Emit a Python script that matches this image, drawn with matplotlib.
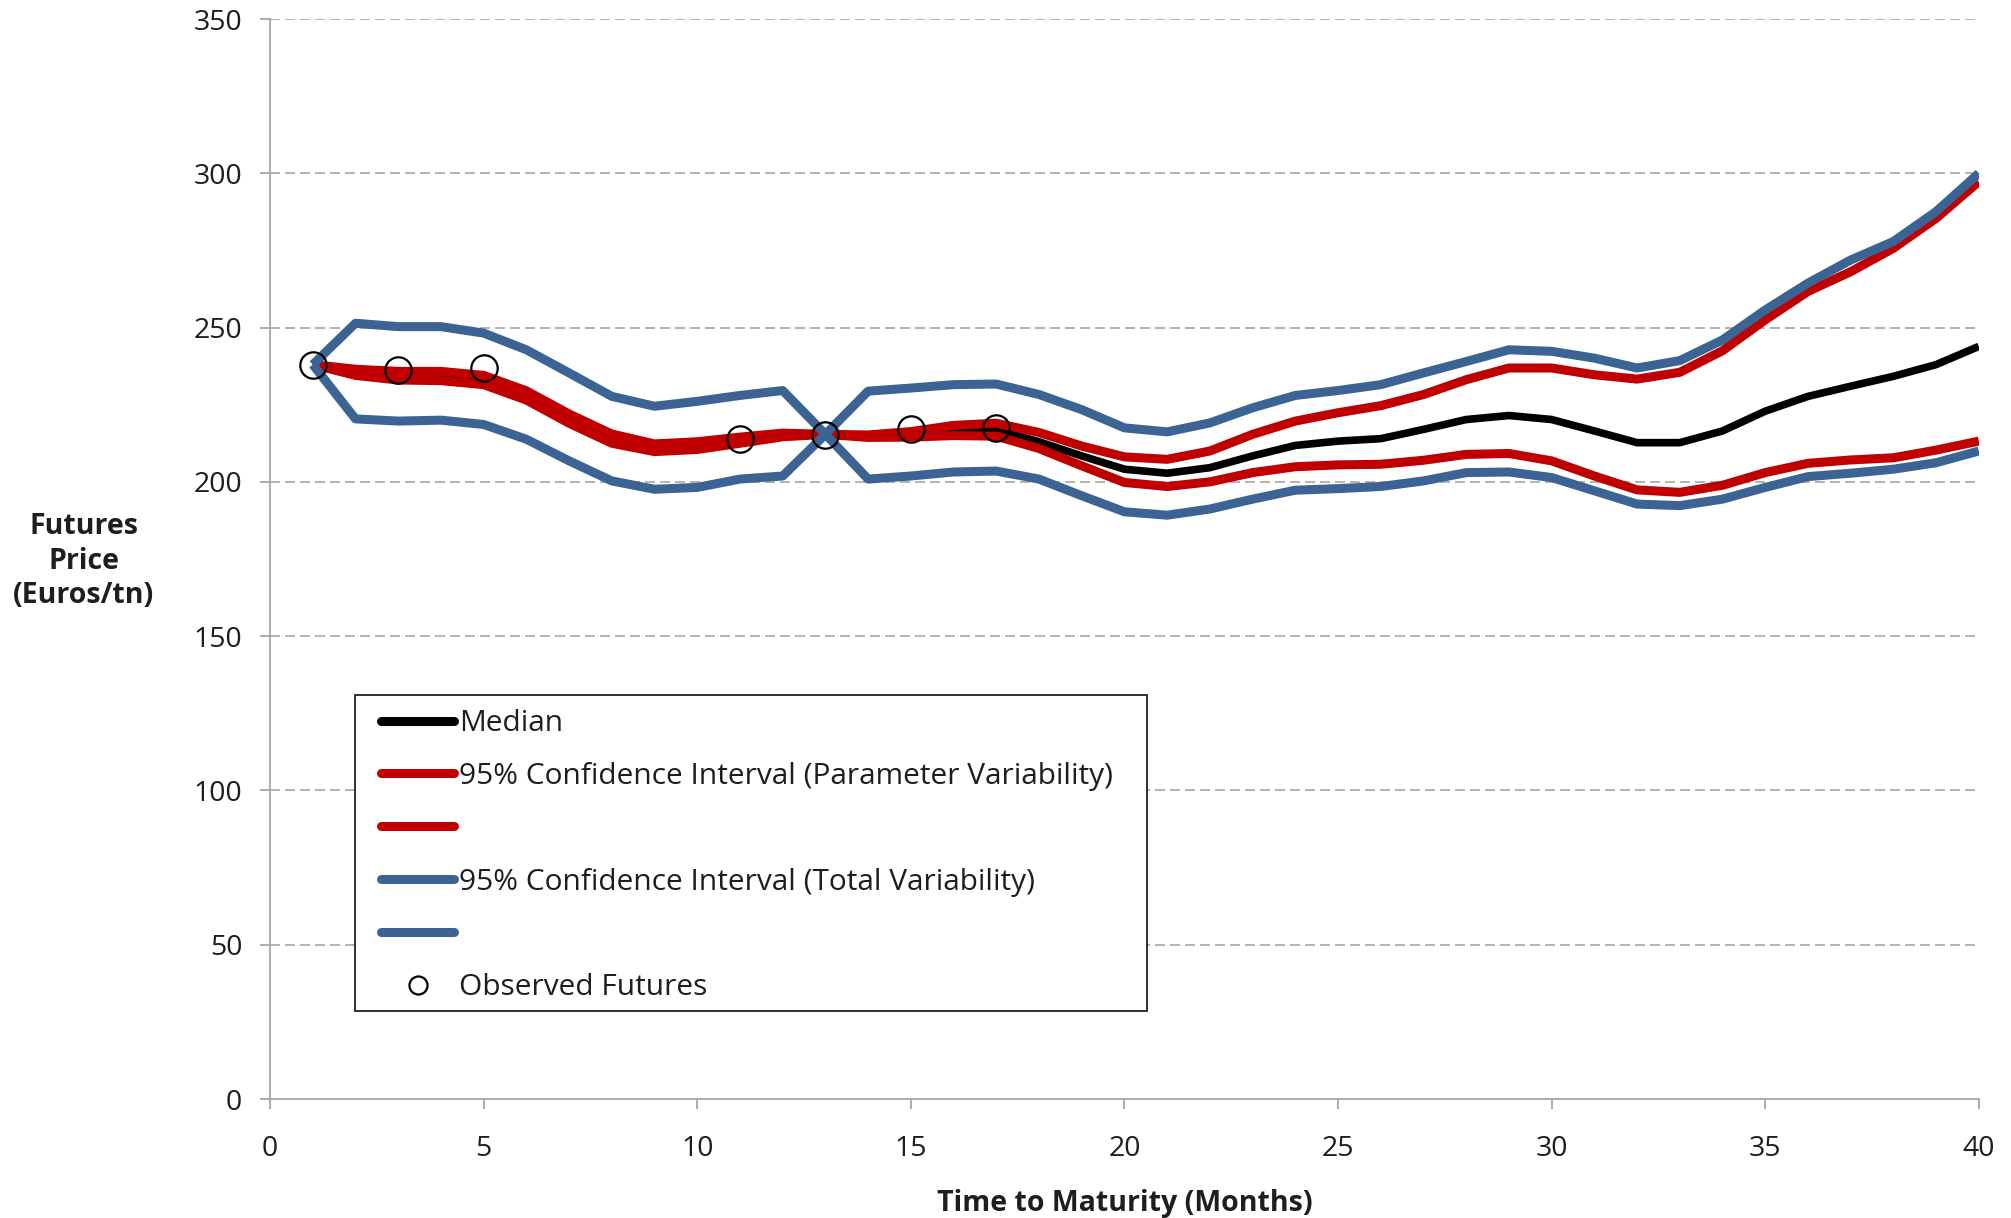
import matplotlib
matplotlib.use("Agg")
import matplotlib.pyplot as plt
from matplotlib.lines import Line2D
from matplotlib.patches import Rectangle

months = list(range(1, 41))

median = [238.0, 235.5, 234.3, 234.2, 233.0, 228.0, 220.5, 214.0, 211.0, 211.8,
          213.5, 215.2, 215.4, 214.8, 215.4, 216.6, 216.8, 213.0, 208.4, 204.1,
          202.8, 204.6, 208.4, 211.8, 213.2, 214.0, 217.0, 220.2, 221.5, 220.2,
          216.5, 212.7, 212.7, 216.5, 222.9, 227.7, 231.0, 234.2, 238.0, 243.9]

param_upper = [238.0, 236.5, 235.8, 235.8, 234.5, 229.5, 222.0, 215.5, 212.3, 213.0,
               214.5, 215.8, 215.4, 215.2, 216.3, 218.3, 219.0, 216.0, 211.6, 208.1,
               207.3, 210.0, 215.4, 219.7, 222.4, 224.7, 228.3, 233.1, 236.9, 236.9,
               234.7, 233.3, 235.5, 242.5, 252.5, 261.7, 268.1, 275.7, 285.4, 297.3]

param_lower = [238.0, 234.5, 233.0, 232.8, 231.5, 226.5, 219.0, 212.5, 209.8, 210.5,
               212.5, 214.6, 215.4, 214.4, 214.5, 215.0, 214.8, 210.8, 205.2, 199.8,
               198.5, 200.0, 203.0, 204.9, 205.5, 205.7, 207.0, 208.9, 209.2, 206.8,
               201.9, 197.4, 196.6, 198.9, 203.0, 206.0, 207.1, 207.8, 210.3, 213.2]

total_upper = [238.0, 251.4, 250.3, 250.3, 248.2, 242.8, 235.3, 227.7, 224.5, 226.1,
               228.0, 229.6, 215.4, 229.4, 230.4, 231.5, 231.7, 228.3, 223.4, 217.5,
               216.2, 219.1, 224.0, 228.0, 229.6, 231.5, 235.3, 239.0, 242.8, 242.3,
               240.1, 236.9, 239.3, 246.0, 255.7, 264.4, 271.9, 277.9, 287.6, 300.0]

total_lower = [238.0, 220.4, 219.7, 220.0, 218.6, 213.8, 206.8, 200.3, 197.6, 198.2,
               200.9, 201.9, 215.4, 200.9, 201.9, 203.2, 203.5, 200.9, 195.5, 190.3,
               189.2, 191.2, 194.4, 197.3, 197.8, 198.5, 200.3, 203.0, 203.2, 201.4,
               197.1, 192.8, 192.3, 194.4, 198.2, 201.7, 202.8, 204.1, 206.2, 210.0]

obs_months = [1, 3, 5, 11, 13, 15, 17]
obs_values = [238.0, 236.3, 236.9, 213.8, 215.2, 217.0, 217.5]

x_ticks = [0, 5, 10, 15, 20, 25, 30, 35, 40]
y_ticks = [0, 50, 100, 150, 200, 250, 300, 350]

labels = ["Median",
          "95% Confidence Interval (Parameter Variability)",
          "",
          "95% Confidence Interval (Total Variability)",
          "",
          "Observed Futures"]

FONT = ["Open Sans", "DejaVu Sans"]
plt.rcParams['font.family'] = FONT

RED = "#C00000"
BLUE = "#3B6494"
GRID = "#A6A6A6"
TXT = "#1E1E1E"

fig = plt.figure(figsize=(20.11, 12.18), dpi=100)
ax = fig.add_axes([0.1343, 0.0977, 0.8497, 0.8867])

lkw = dict(solid_joinstyle="round", solid_capstyle="butt")
ax.plot(months, median, color="black", lw=5.5, zorder=3, **lkw)
ax.plot(months, param_upper, color=RED, lw=6.5, zorder=4, **lkw)
ax.plot(months, param_lower, color=RED, lw=6.5, zorder=4, **lkw)
ax.plot(months, total_upper, color=BLUE, lw=6.5, zorder=5, **lkw)
ax.plot(months, total_lower, color=BLUE, lw=6.5, zorder=5, **lkw)
ax.plot(obs_months, obs_values, linestyle="none", marker="o", ms=19,
        mfc="none", mec="black", mew=1.6, zorder=6)

ax.set_xlim(0, 40)
ax.set_ylim(0, 350)
ax.set_xticks(x_ticks)
ax.set_yticks(y_ticks)
ax.tick_params(axis="both", labelsize=20.5, colors=GRID, labelcolor=TXT,
               length=7, width=1.3, direction="out")
ax.tick_params(axis="x", pad=19)
ax.tick_params(axis="y", pad=13)

for s in ["top", "right"]:
    ax.spines[s].set_visible(False)
for s in ["left", "bottom"]:
    ax.spines[s].set_color(GRID)
    ax.spines[s].set_linewidth(1.3)

for yv in y_ticks[1:]:
    ax.axhline(yv, color=GRID, lw=1.2, linestyle=(0, (6, 3)), zorder=1)

fig.text(84 / 2011, 1 - 561 / 1218, "Futures\nPrice\n(Euros/tn)", ha="center",
         va="center", fontsize=20.5, fontweight="bold", multialignment="center",
         linespacing=1.25, color=TXT)
fig.text(1125 / 2011, 1 - 1204 / 1218, "Time to Maturity (Months)", ha="center",
         va="center", fontsize=20.5, fontweight="bold", color=TXT)

handles = [
    Line2D([], [], color="black", lw=6.5, solid_capstyle="round"),
    Line2D([], [], color=RED, lw=6.5, solid_capstyle="round"),
    Line2D([], [], color=RED, lw=6.5, solid_capstyle="round"),
    Line2D([], [], color=BLUE, lw=6.5, solid_capstyle="round"),
    Line2D([], [], color=BLUE, lw=6.5, solid_capstyle="round"),
    Line2D([], [], linestyle="none", marker="o", ms=13, mfc="none",
           mec="black", mew=1.6),
]
leg = fig.legend(handles, labels, loc="upper left",
                 bbox_to_anchor=(381 / 2011, 1 - 709 / 1218),
                 fontsize=21.5, frameon=False,
                 handlelength=2.45, handletextpad=0.17, labelspacing=0.8,
                 borderpad=0, borderaxespad=0)
for t in leg.get_texts():
    t.set_color(TXT)

fig.add_artist(Rectangle((355 / 2011, 1 - 1011 / 1218), 792 / 2011, 316 / 1218,
                         transform=fig.transFigure, fill=True, facecolor="white",
                         edgecolor="#222222", lw=1.3, zorder=2.5))
leg.set_zorder(3)

fig.savefig("out.png", dpi=100)
